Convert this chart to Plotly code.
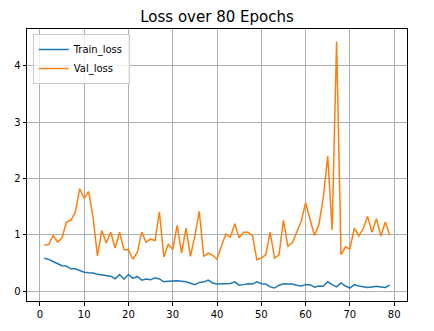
import plotly.graph_objects as go

# Per-epoch losses
epochs = list(range(1, 80))

train_loss = [
    0.586, 0.568, 0.53, 0.49, 0.455, 0.45, 0.40, 0.40, 0.37, 0.34,
    0.33, 0.325, 0.305, 0.29, 0.28, 0.27, 0.225, 0.30, 0.215, 0.30,
    0.23, 0.265, 0.20, 0.22, 0.205, 0.24, 0.22, 0.17, 0.18, 0.185,
    0.19, 0.18, 0.17, 0.145, 0.12, 0.16, 0.165, 0.20, 0.15, 0.13,
    0.13, 0.13, 0.14, 0.17, 0.11, 0.12, 0.135, 0.13, 0.17, 0.135,
    0.13, 0.08, 0.06, 0.11, 0.135, 0.13, 0.13, 0.11, 0.095, 0.12,
    0.12, 0.075, 0.095, 0.09, 0.17, 0.12, 0.08, 0.15, 0.095, 0.06,
    0.12, 0.095, 0.08, 0.07, 0.08, 0.09, 0.08, 0.07, 0.11,
]

val_loss = [
    0.82, 0.83, 0.99, 0.875, 0.95, 1.23, 1.26, 1.40, 1.82, 1.65,
    1.77, 1.33, 0.63, 1.08, 0.86, 1.05, 0.77, 1.05, 0.74, 0.74,
    0.57, 0.69, 1.05, 0.87, 0.93, 0.90, 1.41, 0.61, 0.84, 0.74,
    1.17, 0.68, 1.12, 0.62, 0.98, 1.42, 0.62, 0.68, 0.64, 0.57,
    0.80, 1.02, 0.96, 1.20, 0.95, 1.05, 1.05, 0.99, 0.56, 0.59,
    0.65, 1.05, 0.59, 0.65, 1.26, 0.80, 0.86, 1.04, 1.24, 1.57,
    1.28, 0.99, 1.18, 1.66, 2.40, 1.09, 4.43, 0.65, 0.79, 0.75,
    1.12, 0.98, 1.11, 1.33, 1.05, 1.29, 0.98, 1.23, 1.00,
]

x_ticks = [0, 10, 20, 30, 40, 50, 60, 70, 80]
y_ticks = [0, 1, 2, 3, 4]

FONT = "DejaVu Sans"

fig = go.Figure()
fig.add_trace(go.Scatter(x=epochs, y=train_loss, mode="lines", name="Train_loss",
                         line=dict(color="#1f77b4", width=1.5)))
fig.add_trace(go.Scatter(x=epochs, y=val_loss, mode="lines", name="Val_loss",
                         line=dict(color="#ff7f0e", width=1.5)))

axis_common = dict(
    showline=True, mirror=True, linecolor="black", linewidth=1,
    ticks="outside", ticklen=3.5, tickwidth=0.8, tickcolor="black",
    showgrid=True, gridcolor="#b0b0b0", gridwidth=0.8,
    zeroline=False, tickfont=dict(family=FONT, size=10, color="black"),
)

fig.update_layout(
    width=434, height=331,
    margin=dict(l=27, r=27, t=29, b=30),
    paper_bgcolor="white", plot_bgcolor="white",
    font=dict(family=FONT, size=10, color="black"),
    title=dict(text="Loss over 80 Epochs", x=0.5, xanchor="center",
               y=1 - 17 / 331, yanchor="middle",
               font=dict(family=FONT, size=15, color="black")),
    xaxis=dict(range=[-2.9, 82.9], tickvals=x_ticks, **axis_common),
    yaxis=dict(range=[-0.17, 4.65], tickvals=y_ticks, **axis_common),
    legend=dict(x=0.015, y=0.982, xanchor="left", yanchor="top",
                bgcolor="rgba(255,255,255,0.8)", bordercolor="#cccccc",
                borderwidth=1, font=dict(family=FONT, size=10, color="black"),
                itemwidth=30, tracegroupgap=0),
    showlegend=True,
)

fig.write_html("out.html")
